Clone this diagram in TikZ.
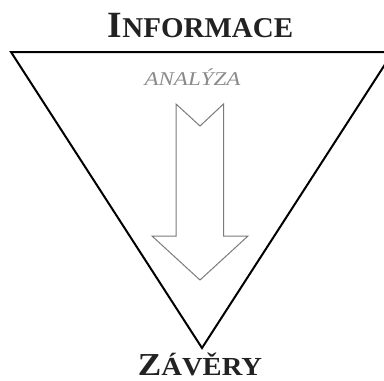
\documentclass[tikz,border=0pt]{standalone}
\usepackage{fontspec}
\setmainfont{Liberation Serif}
\definecolor{titlegray}{HTML}{222222}
\definecolor{arrowgray}{HTML}{7A7A7A}
\definecolor{labelgray}{HTML}{8A8A8A}
\tikzset{
  funnel/.style={draw=black, line width=2pt, line join=miter},
  bigarrow/.style={draw=arrowgray, line width=1pt, fill=white},
  title/.style={inner sep=0pt, anchor=base, text depth=0pt, text=titlegray, font=\bfseries},
  sublabel/.style={inner sep=0pt, anchor=base, text depth=0pt, text=labelgray, font=\itshape\fontsize{19.5}{19.5}\selectfont}
}
\begin{document}
\begin{tikzpicture}[x=1pt, y=-1pt]
\clip (0,0) rectangle (384,381);
\fill[white] (0,0) rectangle (384,381);
\coordinate (tl) at (11,52);
\coordinate (tr) at (393,52);
\coordinate (apex) at (202,348);
\draw[funnel] (tl) -- (tr) -- (apex) -- cycle;
\draw[bigarrow] (176,104) -- (200,126) -- (223.5,104) -- (223.5,236) -- (248,236)
  -- (200,280) -- (152,236) -- (176,236) -- cycle;
\node[title, xscale=1.01] (info) at (200.5,37) {{\fontsize{37}{37}\selectfont I}{\fontsize{28.7}{28.7}\selectfont NFORMACE}};
\node[sublabel, xscale=1.18] (anal) at (192.5,85) {ANALÝZA};
\node[title, xscale=1.1] (zav) at (200,375.5) {{\fontsize{32}{32}\selectfont Z}{\fontsize{26}{26}\selectfont ÁVĚRY}};
\end{tikzpicture}
\end{document}
